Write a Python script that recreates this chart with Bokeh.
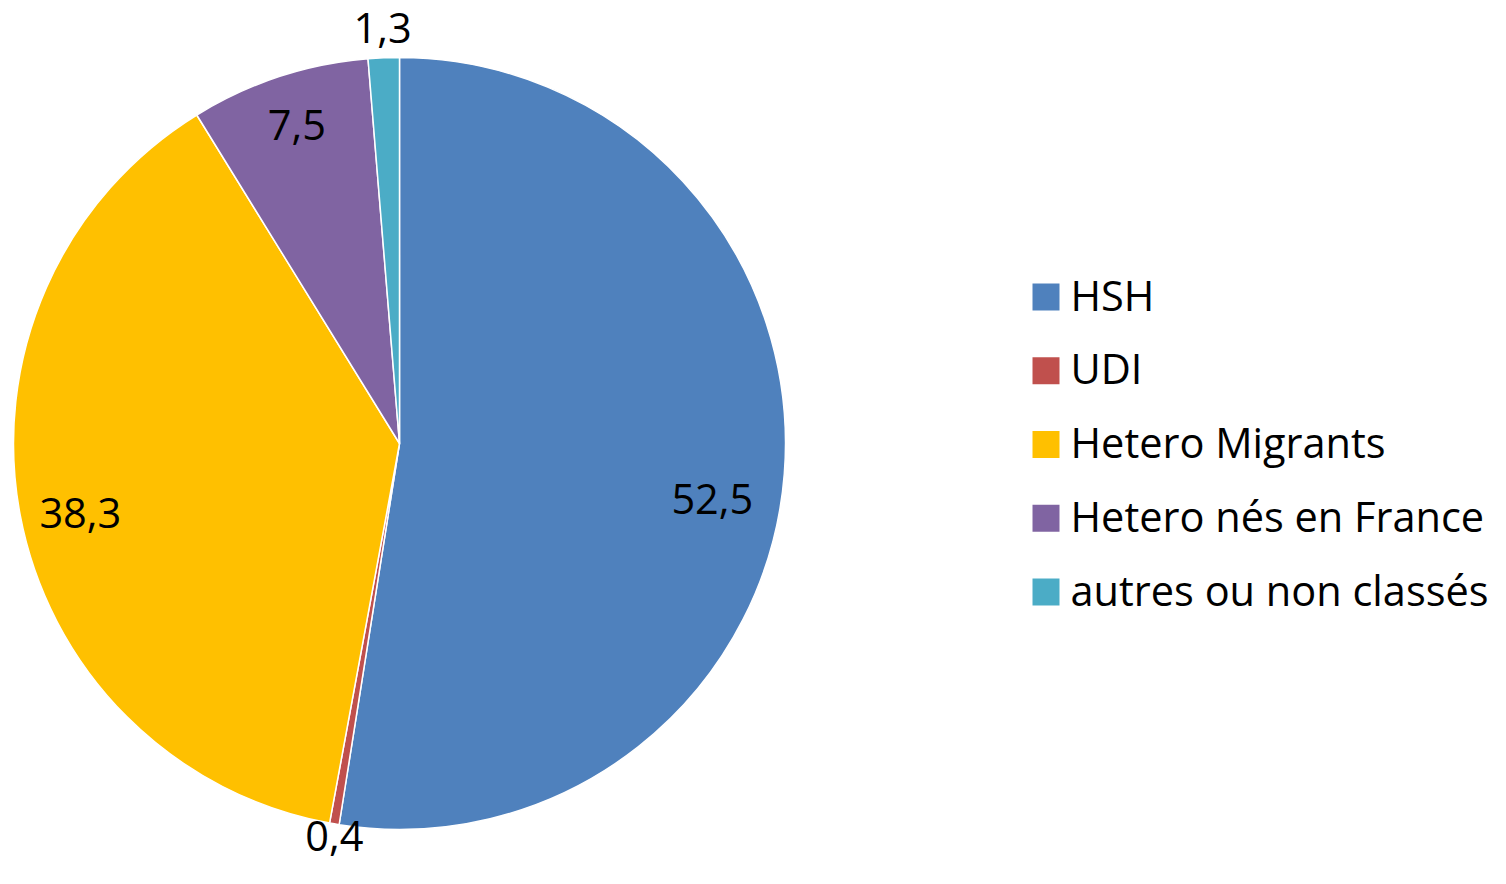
import math
from bokeh.plotting import figure
from bokeh.models import Range1d, ColumnDataSource
from bokeh.core.properties import value
from bokeh.embed import file_html
from bokeh.resources import INLINE

categories = ["HSH", "UDI", "Hetero Migrants", "Hetero nés en France", "autres ou non classés"]
values = [52.5, 0.4, 38.3, 7.5, 1.3]
labels = ["52,5", "0,4", "38,3", "7,5", "1,3"]
colors = ["#4F81BD", "#C0504D", "#FFC000", "#8064A2", "#4BACC6"]

W, H = 1490, 868
FONT = "Open Sans"
FS = "41.5px"

# data coordinates: x_data = figure px, y_data = 884 - figure px
def py(fig_y):
    return 884 - fig_y

cx, cy, R = 399, py(443), 386
# label placement (radius factor, angular tweak in degrees) — styling only
label_r = [0.823, 1.032, 0.846, 0.866, 1.078]
label_da = [-5.5, 0.3, 1.6, -0.3, 0.0]

total = sum(values)
starts, ends, lx, ly = [], [], [], []
cum = 0.0
for i, v in enumerate(values):
    a0 = math.pi / 2 - 2 * math.pi * cum / total
    cum += v
    a1 = math.pi / 2 - 2 * math.pi * cum / total
    starts.append(a0)
    ends.append(a1)
    mid = (a0 + a1) / 2 + math.radians(label_da[i])
    lx.append(cx + label_r[i] * R * math.cos(mid))
    ly.append(cy + label_r[i] * R * math.sin(mid))

src = ColumnDataSource(dict(start=starts, end=ends, color=colors, cat=categories))

p = figure(width=W, height=H, output_backend="svg", toolbar_location=None,
           x_range=Range1d(0, W), y_range=Range1d(884 - H, 884), min_border=0)
p.axis.visible = False
p.grid.visible = False
p.outline_line_color = None
p.background_fill_color = "white"

p.wedge(x=cx, y=cy, radius=R, radius_units="screen", start_angle="start", end_angle="end",
        direction="clock", fill_color="color", line_color="white", line_width=1.5, source=src)

p.text(x=lx, y=ly, text=labels, text_font=value(FONT), text_font_size=FS,
       text_align="center", text_baseline="middle", text_color="black")

# legend
leg_y = [py(296.5 + i * 73.75) for i in range(len(categories))]
p.rect(x=[1045.5] * len(categories), y=leg_y, width=27, height=27,
       width_units="screen", height_units="screen", fill_color=colors, line_color=None)
p.text(x=[1070] * len(categories), y=[y + 2.5 for y in leg_y], text=categories, text_font=value(FONT),
       text_font_size=FS, text_align="left", text_baseline="middle", text_color="black")

open("out.html", "w").write(file_html(p, INLINE))
